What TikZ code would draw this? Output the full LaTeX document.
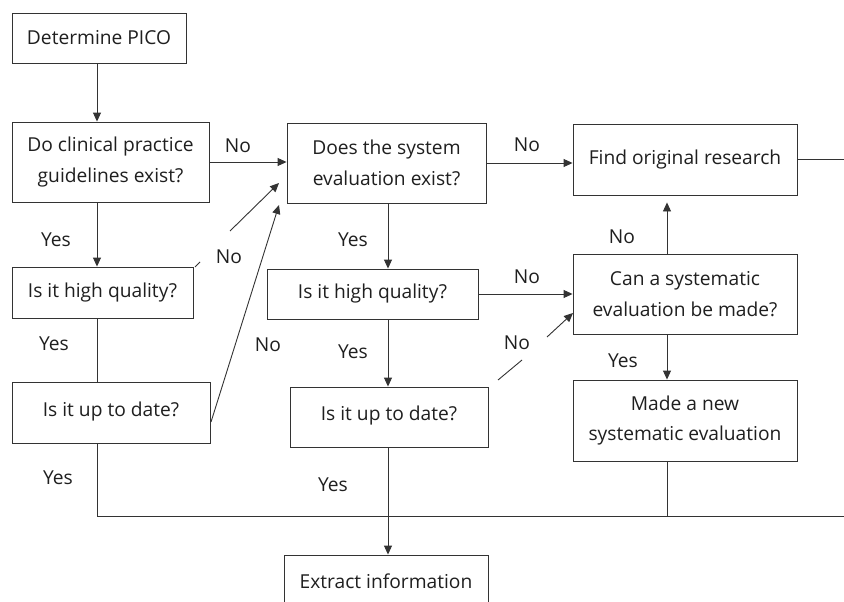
\documentclass[tikz,border=0pt]{standalone}
\usepackage{fontspec}
\setmainfont{Open Sans}
\usetikzlibrary{arrows.meta}
\begin{document}
\begin{tikzpicture}[x=1pt,y=-1pt,
  box/.style={draw=black!80, line width=0.9pt, inner sep=0pt, align=center,
    font=\fontsize{19.2}{30.5}\selectfont, text=black!88},
  lbl/.style={font=\fontsize{19.2}{22}\selectfont, text=black!88, inner sep=0pt},
  ln/.style={draw=black!80, line width=0.9pt},
  arr/.style={ln, -{Triangle[length=9pt,width=8pt]}}]
\fill[white] (0,0) rectangle (844,602);
\useasboundingbox (0,0) rectangle (844,602);

% column guides
\coordinate (c1) at (97,0);
\coordinate (c2) at (388,0);
\coordinate (c3) at (667,0);
\coordinate (bus) at (0,516);
\coordinate (redge) at (844,0);

% boxes
\node[box, minimum width=174pt, minimum height=50pt] (pico) at (99,38) {Determine PICO};
\node[box, minimum width=197pt, minimum height=80pt] (cpg) at (110.5,162) {Do clinical practice\\guidelines exist?};
\node[box, minimum width=199pt, minimum height=80pt] (se) at (386.5,163) {Does the system\\evaluation exist?};
\node[box, minimum width=224pt, minimum height=71pt] (find) at (685,159.5) {Find original research};
\node[box, minimum width=181pt, minimum height=51pt] (hq1) at (102.5,292.5) {Is it high quality?};
\node[box, minimum width=198pt, minimum height=61pt] (utd1) at (111,412.5) {\raisebox{6pt}{Is it up to date?}};
\node[box, minimum width=211pt, minimum height=50pt] (hq2) at (372.5,294) {Is it high quality?};
\node[box, minimum width=198pt, minimum height=60pt] (utd2) at (389,417) {\raisebox{7pt}{Is it up to date?}};
\node[box, minimum width=224pt, minimum height=80pt] (can) at (685,294) {Can a systematic\\evaluation be made?};
\node[box, minimum width=224pt, minimum height=81pt] (made) at (685,420.5) {Made a new\\systematic evaluation};
\node[box, minimum width=204pt, minimum height=60pt] (extract) at (386,585) {\raisebox{7pt}{Extract information}};

% left column
\draw[arr] (pico.south -| c1) -- (cpg.north -| c1);
\draw[arr] (cpg.south -| c1) -- (hq1.north -| c1);
\draw[ln] (hq1.south -| c1) -- (utd1.north -| c1);
\draw[ln] (utd1.south -| c1) -- (bus -| c1) -- (bus -| redge);

% top row
\draw[arr] (cpg.east) -- (cpg.east -| se.west);
\draw[arr] (se.east) -- (se.east -| find.west);
\draw[ln] (find.east) -- (find.east -| redge);

% diagonals to se
\coordinate (d1a) at (195,267);
\coordinate (d1b) at (200,262);
\coordinate (d1c) at (230,231);
\coordinate (d1d) at (279,183);
\draw[ln] (d1a) -- (d1b);
\draw[arr] (d1c) -- (d1d);
\coordinate (d2a) at (211,422);
\coordinate (d2b) at (279,205);
\draw[arr] (d2a) -- (d2b);

% middle column
\draw[arr] (se.south -| c2) -- (hq2.north -| c2);
\draw[arr] (hq2.south -| c2) -- (utd2.north -| c2);
\draw[arr] (utd2.south -| c2) -- (extract.north -| c2);
\draw[arr] (hq2.east) -- (hq2.east -| can.west);

% diagonal to can
\coordinate (d3a) at (498,380);
\coordinate (d3b) at (522,360);
\coordinate (d3c) at (547,337);
\coordinate (d3d) at (573,313);
\draw[ln] (d3a) -- (d3b);
\draw[arr] (d3c) -- (d3d);

% right column
\draw[arr, shorten >=7pt] (can.north -| c3) -- (find.south -| c3);
\draw[arr] (can.south -| c3) -- (made.north -| c3);
\draw[ln] (made.south -| c3) -- (bus -| c3);

% labels
\node[lbl] (n1) at (238,146) {No};
\node[lbl] (n2) at (527,145) {No};
\node[lbl] (n3) at (229,257) {No};
\node[lbl] (n4) at (268,345) {No};
\node[lbl] (n5) at (527,277) {No};
\node[lbl] (n6) at (517,343) {No};
\node[lbl] (n7) at (622,237) {No};
\node[lbl] (y1) at (56,240) {Yes};
\node[lbl] (y2) at (54,344) {Yes};
\node[lbl] (y3) at (58,478) {Yes};
\node[lbl] (y4) at (353,240) {Yes};
\node[lbl] (y5) at (353,352) {Yes};
\node[lbl] (y6) at (333,485) {Yes};
\node[lbl] (y7) at (623,361) {Yes};
\end{tikzpicture}
\end{document}
